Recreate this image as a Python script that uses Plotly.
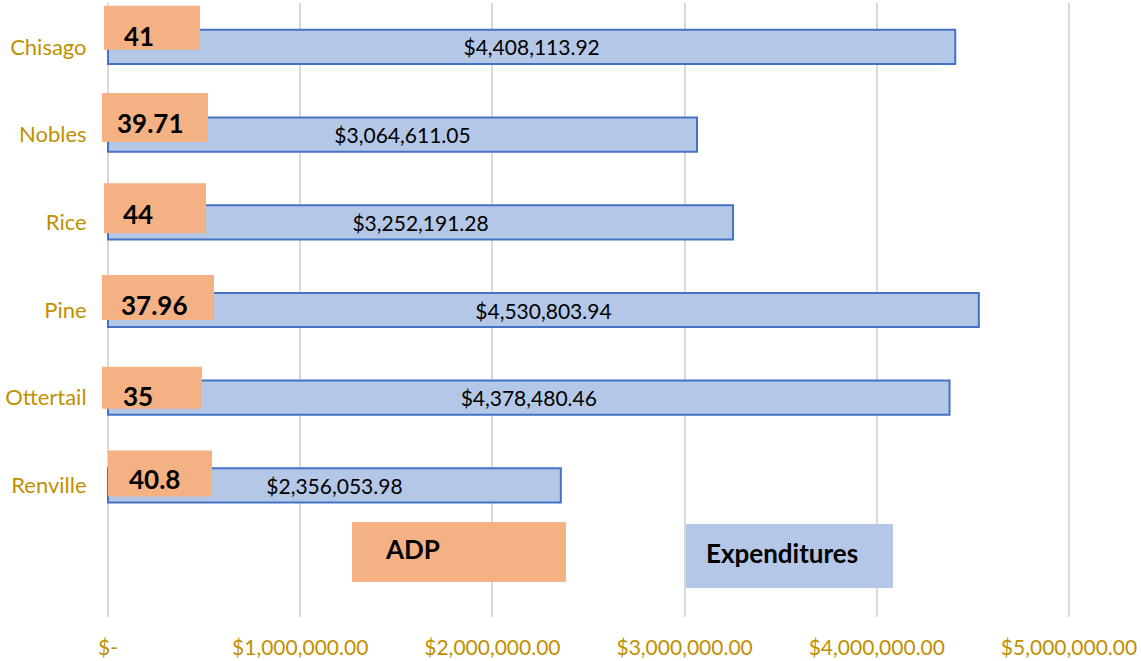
import plotly.graph_objects as go

# ---------------- data ----------------
counties = ["Chisago", "Nobles", "Rice", "Pine", "Ottertail", "Renville"]
expenditures = [4408113.92, 3064611.05, 3252191.28, 4530803.94, 4378480.46, 2356053.98]
adp = ["41", "39.71", "44", "37.96", "35", "40.8"]
x_tick_values = [0, 1000000, 2000000, 3000000, 4000000, 5000000]
x_tick_labels = ["$-", "$1,000,000.00", "$2,000,000.00", "$3,000,000.00",
                 "$4,000,000.00", "$5,000,000.00"]
series_names = ["ADP", "Expenditures"]

# ---------------- style ----------------
FONT = "Lato"
GOLD = "#BF9000"
ORANGE = "#F4B183"
BLUE_FILL = "#B4C7E7"
BLUE_LINE = "#4472C4"

W, H = 1141, 661
M_L, M_R, M_T, M_B = 102, 66, 3, 44
n = len(counties)
Y_RANGE = [-0.5, n + 0.5]
PX_PER_Y = (H - M_T - M_B) / (Y_RANGE[1] - Y_RANGE[0])
PX_PER_X = 192.2 / 1e6
pad_x = 6 / PX_PER_X
X_RANGE = [-pad_x, 5000000 + pad_x]

# label box geometry (pixels, relative to the zero line / bar centre)
adp_box_left = [-4, -12, -4, -8, -6, 0]
adp_box_right = [92, 100, 98, 106, 94, 104]
adp_box_raise = [19, 17, 14, 12.5, 10, 12]
adp_box_height = [44, 49, 50, 45, 42, 46]
adp_text_left = [14, 7, 13, 11, 13, 19]
adp_text_raise = [11, 11.5, 8, 5, 1.5, 6.5]

ypos = [n - i for i in range(n)]  # 6..1, slot 0 holds the legend

fig = go.Figure()
fig.add_trace(go.Bar(
    x=expenditures, y=ypos, orientation="h", width=0.39,
    marker=dict(color=BLUE_FILL, line=dict(color=BLUE_LINE, width=2)),
    text=[f"${v:,.2f}" for v in expenditures],
    textposition="inside", insidetextanchor="middle",
    textfont=dict(family=FONT, size=21, color="black"),
    name=series_names[1], showlegend=False, hoverinfo="skip",
))

shapes = []
annotations = []
for i, (yp, a) in enumerate(zip(ypos, adp)):
    yc = yp + adp_box_raise[i] / PX_PER_Y
    hh = adp_box_height[i] / 2 / PX_PER_Y
    shapes.append(dict(
        type="rect", xref="x", yref="y", xsizemode="pixel", xanchor=0,
        x0=adp_box_left[i], x1=adp_box_right[i], y0=yc - hh, y1=yc + hh,
        fillcolor=ORANGE, line=dict(width=0), layer="above",
    ))
    annotations.append(dict(
        x=0, y=yp, xref="x", yref="y", xanchor="left", yanchor="middle",
        xshift=adp_text_left[i], yshift=adp_text_raise[i],
        text=a, showarrow=False,
        font=dict(family=FONT, size=26, color="black", weight="bold"),
    ))

# legend boxes (paper coordinates of the plot area)
def px_to_paper_x(px):
    return (px - M_L) / (W - M_L - M_R)

def px_to_paper_y(py):
    return (H - M_B - py) / (H - M_T - M_B)

legend_items = [
    (series_names[0], ORANGE, 352, 566, 522, 582, 383),
    (series_names[1], BLUE_FILL, 686, 893, 524, 588, 704),
]
for name, col, x0, x1, y0, y1, tx in legend_items:
    shapes.append(dict(
        type="rect", xref="paper", yref="paper",
        x0=px_to_paper_x(x0), x1=px_to_paper_x(x1),
        y0=px_to_paper_y(y1), y1=px_to_paper_y(y0),
        fillcolor=col, line=dict(width=0), layer="above",
    ))
    annotations.append(dict(
        x=px_to_paper_x(tx), y=px_to_paper_y((y0 + y1) / 2 - 3),
        xref="paper", yref="paper", xanchor="left", yanchor="middle",
        text=name, showarrow=False,
        font=dict(family=FONT, size=26, color="black", weight="bold"),
    ))

fig.update_layout(
    width=W, height=H,
    margin=dict(l=M_L, r=M_R, t=M_T, b=M_B),
    paper_bgcolor="white", plot_bgcolor="white",
    showlegend=False,
    shapes=shapes,
    annotations=annotations,
    xaxis=dict(
        range=X_RANGE, tickvals=x_tick_values, ticktext=x_tick_labels,
        showgrid=True, gridcolor="#D9D9D9", gridwidth=1.5, zeroline=False,
        showline=False, ticks="outside", ticklen=12, tickcolor="rgba(0,0,0,0)",
        tickfont=dict(family=FONT, size=21, color=GOLD),
        automargin=False, fixedrange=True,
    ),
    yaxis=dict(
        range=Y_RANGE, tickvals=ypos, ticktext=counties,
        showgrid=False, zeroline=False, showline=False,
        ticks="outside", ticklen=10, tickcolor="rgba(0,0,0,0)",
        tickfont=dict(family=FONT, size=22, color=GOLD),
        automargin=False, fixedrange=True,
    ),
)

fig.write_html(
    "out.html",
    config={"displayModeBar": False},
    post_script="document.body.style.margin='0';document.body.style.overflow='hidden';",
)
